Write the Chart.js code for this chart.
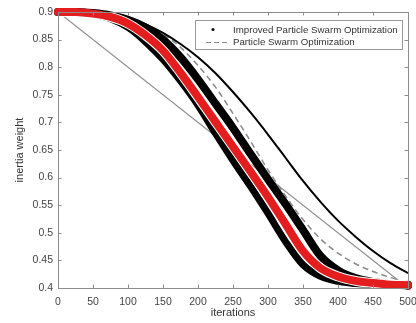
<!DOCTYPE html>
<html>
<head>
<meta charset="utf-8">
<script src="https://cdn.jsdelivr.net/npm/chart.js@4.4.1/dist/chart.umd.min.js"></script>
<style>
html,body{margin:0;padding:0;background:#fff;}
#wrap{width:416px;height:323px;position:relative;}
</style>
</head>
<body>
<div id="wrap"><canvas id="c" width="416" height="323"></canvas></div>
<script>
// ---- data ----
const iterations = [0,25,50,75,100,125,150,175,200,225,250,275,300,325,350,375,400,425,450,475,500];
const ipsoLower  = [0.900,0.899,0.896,0.888,0.872,0.846,0.814,0.775,0.731,0.680,0.631,0.584,0.535,0.484,0.442,0.421,0.412,0.408,0.406,0.405,0.404];
const ipsoRed    = [0.900,0.900,0.897,0.891,0.879,0.858,0.830,0.790,0.746,0.701,0.656,0.611,0.565,0.516,0.467,0.436,0.421,0.413,0.409,0.406,0.405];
const ipsoUpper  = [0.900,0.900,0.898,0.894,0.886,0.872,0.850,0.818,0.778,0.734,0.690,0.643,0.597,0.552,0.505,0.458,0.432,0.418,0.411,0.407,0.406];
const psoDashed  = [0.900,0.900,0.899,0.896,0.889,0.877,0.860,0.836,0.803,0.764,0.716,0.666,0.614,0.567,0.524,0.489,0.463,0.444,0.430,0.419,0.410];
const psoSolid   = [0.900,0.900,0.899,0.896,0.889,0.878,0.862,0.842,0.818,0.789,0.755,0.718,0.678,0.636,0.594,0.556,0.522,0.493,0.467,0.445,0.427];
const linearIter = [0,500];
const linearW    = [0.9,0.4];
const xTicks = [0,50,100,150,200,250,300,350,400,450,500];
const yTicks = [0.4,0.45,0.5,0.55,0.6,0.65,0.7,0.75,0.8,0.85,0.9];
const legendLabels = ['Improved Particle Swarm Optimization','Particle Swarm Optimization'];
const xTitle = 'iterations';
const yTitle = 'inertia weight';

const FONT = '"Liberation Sans", Arial, Helvetica, sans-serif';
const pts = (xs, ys) => xs.map((x, i) => ({x: x, y: ys[i]}));
const endDots = (n, r) => iterations.map((_, i) => (i === 0 || i === n - 1) ? r : 0);

function line(data, color, width, order, extra) {
  return Object.assign({
    data: data, borderColor: color, backgroundColor: color, borderWidth: width,
    pointRadius: 0, fill: false, cubicInterpolationMode: 'monotone', order: order
  }, extra || {});
}

const axesPlugin = {
  id: 'matlabAxes',
  afterDatasetsDraw(chart) {
    const {ctx, chartArea: a, scales} = chart;
    ctx.save();
    ctx.strokeStyle = '#8c8c8c';
    ctx.lineWidth = 1;
    ctx.strokeRect(Math.round(a.left) + 0.5, Math.round(a.top) + 0.5,
      Math.round(a.right - a.left), Math.round(a.bottom - a.top));
    const tl = 3.5;
    ctx.beginPath();
    xTicks.forEach(v => {
      const px = Math.round(scales.x.getPixelForValue(v)) + 0.5;
      ctx.moveTo(px, a.bottom); ctx.lineTo(px, a.bottom - tl);
      ctx.moveTo(px, a.top); ctx.lineTo(px, a.top + tl);
    });
    yTicks.forEach(v => {
      const py = Math.round(scales.y.getPixelForValue(v)) + 0.5;
      ctx.moveTo(a.left, py); ctx.lineTo(a.left + tl, py);
      ctx.moveTo(a.right, py); ctx.lineTo(a.right - tl, py);
    });
    ctx.stroke();

    // legend box inside plot (top right)
    const bx = 195.5, by = 20.5, bw = 207, bh = 29;
    ctx.fillStyle = '#fff';
    ctx.fillRect(bx, by, bw, bh);
    ctx.strokeStyle = '#9a9a9a';
    ctx.strokeRect(bx, by, bw, bh);
    ctx.fillStyle = '#111';
    ctx.beginPath(); ctx.arc(213, 29.5, 1.6, 0, Math.PI * 2); ctx.fill();
    ctx.strokeStyle = '#8a8a8a';
    ctx.lineWidth = 1.2;
    ctx.setLineDash([5, 3]);
    ctx.beginPath(); ctx.moveTo(206, 42.5); ctx.lineTo(230, 42.5); ctx.stroke();
    ctx.setLineDash([]);
    ctx.fillStyle = '#333';
    ctx.font = '9.7px ' + FONT;
    ctx.textBaseline = 'middle';
    ctx.textAlign = 'left';
    ctx.fillText(legendLabels[0], 233, 30);
    ctx.fillText(legendLabels[1], 233, 42.5);
    ctx.restore();
  }
};

new Chart(document.getElementById('c'), {
  type: 'line',
  data: {
    datasets: [
      line(pts(iterations, ipsoRed), '#e41e1e', 8, 1, {pointRadius: endDots(iterations.length, 4), pointBorderWidth: 0, clip: false}),
      line(pts(iterations, ipsoRed), '#ffffff', 10, 2),
      line(pts(iterations, ipsoUpper), '#000000', 8, 3, {pointRadius: endDots(iterations.length, 4), pointBorderWidth: 0, clip: false}),
      line(pts(iterations, ipsoLower), '#000000', 7, 4, {pointRadius: endDots(iterations.length, 4), pointBorderWidth: 0, clip: false}),
      line(pts(iterations, psoSolid), '#000000', 2, 5),
      line(pts(iterations, psoDashed), '#8a8a8a', 1.5, 6, {borderDash: [6, 4]}),
      line(pts(linearIter, linearW), '#8f8f8f', 1.2, 7, {cubicInterpolationMode: 'default', tension: 0})
    ]
  },
  options: {
    responsive: false,
    animation: false,
    devicePixelRatio: 1,
    layout: {padding: {left: 0, right: 8, top: 12, bottom: 0}},
    plugins: {legend: {display: false}, tooltip: {enabled: false}},
    scales: {
      x: {
        type: 'linear', min: 0, max: 500,
        grid: {display: false, drawTicks: false}, border: {display: false},
        afterBuildTicks: s => { s.ticks = xTicks.map(v => ({value: v})); },
        afterFit: s => { s.height = 35; s.paddingLeft = 0; s.paddingRight = 0; },
        ticks: {color: '#444', font: {family: FONT, size: 10.5}, padding: 8, maxRotation: 0, autoSkip: false},
        title: {display: true, text: xTitle, color: '#333', font: {family: FONT, size: 11}, padding: {top: 0, bottom: 3.5}}
      },
      y: {
        type: 'linear', min: 0.4, max: 0.9,
        grid: {display: false, drawTicks: false}, border: {display: false},
        afterBuildTicks: s => { s.ticks = yTicks.map(v => ({value: v})); },
        afterFit: s => { s.width = 58; s.paddingTop = 0; s.paddingBottom = 0; },
        ticks: {color: '#444', font: {family: FONT, size: 10.5}, padding: 5,
          callback: v => String(Number(v.toFixed(2)))},
        title: {display: true, text: yTitle, color: '#333', font: {family: FONT, size: 11}, padding: {top: 13.5, bottom: 0}}
      }
    }
  },
  plugins: [axesPlugin]
});
</script>
</body>
</html>
